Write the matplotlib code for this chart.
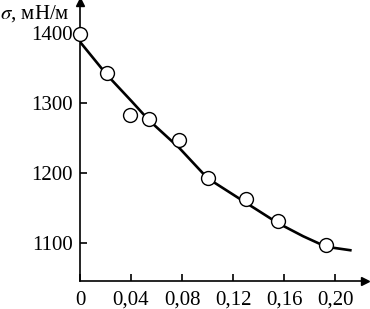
import matplotlib.pyplot as plt
import numpy as np

plt.rcParams['font.family'] = ['Liberation Serif', 'DejaVu Serif']
plt.rcParams['mathtext.fontset'] = 'stix'

# measured points
c = np.array([0.0, 0.021, 0.039, 0.054, 0.078, 0.100, 0.130, 0.155, 0.193])
sigma = np.array([1398, 1343, 1283, 1277, 1247, 1193, 1162, 1131, 1096])

# smooth curve
c_line = np.array([0.0, 0.021, 0.0405, 0.054, 0.078, 0.100, 0.130, 0.155, 0.175, 0.193, 0.212])
sigma_line = np.array([1387, 1340, 1302, 1275, 1235, 1192, 1157, 1128, 1109, 1094, 1089])

xticks = [0, 0.04, 0.08, 0.12, 0.16, 0.20]
xlabels = ['0', '0,04', '0,08', '0,12', '0,16', '0,20']
yticks = [1100, 1200, 1300, 1400]

fig = plt.figure(figsize=(3.7, 3.09), dpi=100)
ax = fig.add_axes([80/370, 28/309, 285/370, 279/309])

ax.plot(c_line, sigma_line, color='black', lw=1.9, zorder=2)
ax.plot(c, sigma, 'o', ms=10, mfc='white', mec='black', mew=1.0, zorder=3, clip_on=False)

ax.set_xlim(0, 0.2235)
ax.set_ylim(1045, 1444)

ax.spines['top'].set_visible(False)
ax.spines['right'].set_visible(False)
ax.spines['left'].set_linewidth(1.2)
ax.spines['bottom'].set_linewidth(1.2)

# arrow heads
ax.plot(1, 0, '>', color='black', ms=6, transform=ax.transAxes, clip_on=False)
ax.plot(0, 1, '^', color='black', ms=6, transform=ax.transAxes, clip_on=False)

ax.set_xticks(xticks)
ax.set_xticklabels(xlabels)
ax.set_yticks(yticks)
ax.tick_params(direction='in', length=5, width=1.2, labelsize=15)
ax.tick_params(axis='x', pad=7)
ax.tick_params(axis='y', pad=5)

fig.text(0.0, 1 - 14/309, r'$\sigma$, мН/м', fontsize=15, va='center', ha='left')

fig.savefig('out.png', dpi=100)
